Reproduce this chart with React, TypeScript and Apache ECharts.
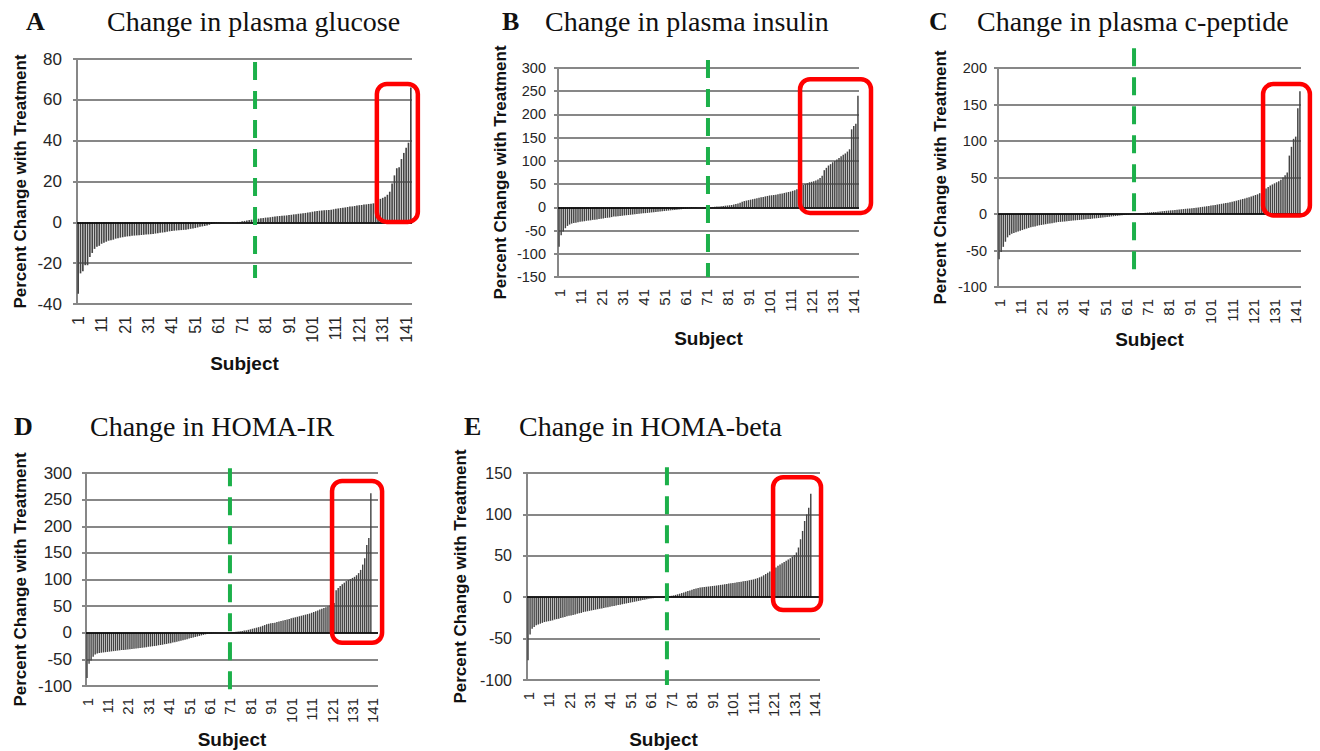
import React, { useEffect, useRef } from "react";
import * as echarts from "echarts";

// ---------- DATA ----------
const subjectCount = 143;
const subjects: string[] = Array.from({ length: subjectCount }, (_, i) => String(i + 1));

const panelLetters = ["A", "B", "C", "D", "E"];
const panelTitles = [
  "Change in plasma glucose",
  "Change in plasma insulin",
  "Change in plasma c-peptide",
  "Change in HOMA-IR",
  "Change in HOMA-beta",
];
const yMins = [-40, -150, -100, -100, -100];
const yMaxs = [80, 300, 200, 300, 150];
const yIntervals = [20, 50, 50, 50, 50];

const glucoseChange = [
  -35, -25, -24, -21, -21, -17, -15, -13, -12, -11.5,
  -10.5, -10, -9.5, -9, -8.8, -8.5, -8, -7.8, -7.5, -7.3,
  -7, -6.9, -6.8, -6.6, -6.5, -6.4, -6.3, -6.2, -6.1, -6,
  -5.9, -5.8, -5.7, -5.5, -5.3, -5.1, -5, -4.8, -4.6, -4.4,
  -4.3, -4.1, -4, -3.9, -3.8, -3.7, -3.6, -3.4, -3.2, -3,
  -2.8, -2.5, -2.2, -2, -1.8, -1.5, -1.2, -0.8, -0.5, -0.3,
  -0.2, -0.1, -0.1, 0, 0, 0, 0.1, 0.1, 0.2, 0.2,
  0.5, 0.7, 0.9, 1.1, 1.3, 1.5, 1.6, 1.8, 2, 2.1,
  2.3, 2.4, 2.5, 2.7, 2.8, 3, 3.1, 3.2, 3.3, 3.4,
  3.6, 3.7, 3.9, 4, 4.2, 4.3, 4.5, 4.6, 4.8, 5,
  5.2, 5.4, 5.6, 5.7, 5.8, 5.9, 6, 6.1, 6.2, 6.4,
  6.6, 6.8, 7, 7.1, 7.3, 7.5, 7.7, 7.8, 8, 8.2,
  8.4, 8.5, 8.7, 8.8, 9, 9.1, 9.3, 9.5, 9.8, 11.5,
  12, 12.5, 13.5, 15, 19, 23, 26.5, 27, 31, 34,
  36.5, 39, 66,
];

const insulinChange = [
  -85, -60, -52, -45, -40, -37, -35, -34, -33, -32,
  -31, -30.5, -30, -29, -28.5, -28, -27, -26.5, -26, -25,
  -24.5, -24, -23, -22.5, -22, -21, -20, -19.5, -19, -18.5,
  -18, -17.5, -17, -16.5, -16, -15.5, -15, -14.5, -14, -13.5,
  -13, -12.5, -12, -11.5, -11, -10.5, -10, -9.5, -9, -8.5,
  -8, -7.5, -7, -6.5, -6, -5.5, -5, -4.5, -4, -3.5,
  -3, -2.5, -2, -1.5, -1, -0.8, -0.5, -0.3, -0.1, 0,
  0, 0.2, 0.5, 0.8, 1.2, 1.6, 2, 2.5, 3, 3.5,
  4, 4.5, 5, 6, 7, 8.5, 10, 12, 13.5, 14.5,
  15.5, 16.5, 17.5, 18.5, 19.5, 20.5, 21.5, 22.5, 23.5, 24.5,
  25.5, 26, 26.5, 27, 28, 29, 30, 31, 32, 33,
  34, 35.5, 37, 39, 41, 44, 48, 50, 52, 54,
  55, 56, 58, 60, 63, 68, 80, 85, 90, 93,
  97, 100, 103, 106, 110, 113, 116, 120, 125, 168,
  175, 180, 240,
];

const cPeptideChange = [
  -62, -52, -45, -38, -32, -29, -27, -26, -25, -24,
  -23, -22, -21, -20, -19, -18, -17.5, -17, -16, -15.5,
  -15, -14.5, -14, -13.5, -13, -12.5, -12, -11.5, -11, -10.8,
  -10.5, -10.2, -10, -9.7, -9.4, -9, -8.7, -8.4, -8.1, -7.8,
  -7.5, -7.2, -7, -6.7, -6.4, -6.1, -5.8, -5.5, -5.2, -4.8,
  -4.4, -4, -3.7, -3.4, -3.1, -2.8, -2.5, -2.2, -1.8, -1.5,
  -1.1, -0.7, -0.4, -0.1, 0.2, 0.5, 0.8, 1, 1.3, 1.6,
  1.9, 2.2, 2.5, 2.7, 2.9, 3.2, 3.5, 3.8, 4.1, 4.4,
  4.7, 5, 5.3, 5.6, 5.9, 6.2, 6.5, 6.8, 7.1, 7.4,
  7.7, 8, 8.3, 8.7, 9, 9.4, 9.8, 10.2, 10.6, 11,
  11.5, 12, 12.5, 13, 13.5, 14, 14.5, 15, 15.5, 16,
  16.8, 17.5, 18.2, 19, 19.8, 20.6, 21.4, 22.2, 23, 24,
  25, 26, 27, 28.5, 30, 32, 35, 37, 39, 40.5,
  42, 43.5, 45, 47, 50, 53, 57, 80, 92, 103,
  106, 145, 168,
];

const homaIrChange = [
  -85, -58, -52, -45, -41, -39, -38, -37.5, -37, -36.5,
  -36, -35.5, -35, -34.5, -34, -33.5, -33, -32.5, -32.2, -32,
  -31.5, -31, -30.5, -30, -29.5, -29, -28.5, -28, -27.5, -27,
  -26.5, -26, -25.5, -25, -24.5, -23.5, -23, -22.5, -21.5, -21,
  -20, -19.5, -18.5, -18, -17, -16, -15, -14, -13, -12,
  -11, -10, -9, -8, -7, -6, -5, -4, -3, -2,
  -1.5, -1, -0.5, -0.3, -0.1, 0, 0, 0.1, 0.2, 0.4,
  0.7, 1, 1.5, 2, 2.5, 3, 3.5, 4, 4.5, 5.5,
  6.5, 7.5, 8.5, 9.5, 10.5, 11.5, 13, 14.5, 16, 17,
  18, 18.5, 19, 20, 21, 22, 23, 24, 25, 26,
  27, 28, 29, 30, 31, 32, 33, 34, 35, 36,
  37.5, 39, 40.5, 42, 43.5, 45, 46.5, 48, 49.5, 51,
  53, 56, 80, 84, 88, 91, 94, 97, 99, 101,
  103, 105, 108, 112, 118, 128, 140, 165, 178, 262,
];

const homaBetaChange = [
  -76, -45, -38, -36, -34, -33, -32, -31, -30, -29.5,
  -29, -28.5, -28, -27, -26.5, -26, -25, -24.5, -24, -23,
  -22.5, -22, -21.5, -21, -20, -19.5, -19, -18, -17.5, -17,
  -16.5, -16, -15.5, -15, -14.5, -14, -13.5, -13, -12.5, -12,
  -11.5, -11, -10.5, -10, -9.5, -9, -8.5, -8, -7.5, -7,
  -6.5, -6, -5.5, -5, -4.5, -4, -3.5, -3, -2.5, -2,
  -1.5, -1.2, -0.9, -0.6, -0.3, -0.1, 0.1, 0.4, 0.8, 1.2,
  1.7, 2.2, 2.8, 3.5, 4.2, 5, 5.8, 6.6, 7.4, 8.2,
  9, 9.8, 10.6, 11.2, 11.6, 12, 12.3, 12.6, 12.9, 13.2,
  13.5, 13.8, 14.1, 14.5, 14.9, 15.2, 15.6, 16, 16.4, 16.8,
  17.2, 17.6, 18, 18.4, 18.8, 19.2, 19.6, 20, 20.5, 21,
  21.5, 22.2, 23, 24, 25, 26.5, 28, 29.5, 31, 32.5,
  34, 36, 38, 39.5, 41, 42.5, 44, 45.5, 47, 49,
  51, 54, 60, 70, 80, 92, 100, 108, 125,
];

const panelSeries = [glucoseChange, insulinChange, cPeptideChange, homaIrChange, homaBetaChange];

// annotations (subject index position, values)
const greenLineSubject = [75.5, 70.75, 63.7, 70, 67.8];
const greenLineTop = [78.5, 317, 227, 309, 157];
const greenLineBottom = [-27.3, -150, -81, -117, -106];

const redBoxStart = [127.5, 114.5, 124.6, 120, 119.6];
const redBoxEnd = [145, 148.2, 146.7, 144.5, 143];
const redBoxTop = [67.8, 276, 178, 285, 145];
const redBoxBottom = [0.2, -12, -2, -19, -15.5];

// ---------- LAYOUT ----------
const grids = [
  { left: 77, top: 59, width: 335, height: 245 },
  { left: 558, top: 68, width: 301, height: 209 },
  { left: 998, top: 68, width: 303, height: 219 },
  { left: 86, top: 473, width: 292, height: 213 },
  { left: 527, top: 473, width: 293, height: 207 },
];
const yLabelSize = [17, 14.5, 14.5, 17, 16];
const yLabelMargin = [15, 12, 11, 14, 15];
const xLabelSize = [16, 15, 15, 15, 15];
const xNameGap = [49.5, 51.5, 42.5, 43.5, 49.5];
const yNameGap = [48.5, 49.5, 49.5, 57.5, 58.5];
const xNamePad = [0, 0, 0, 0, 20];
const letterPos = [[26, 21], [502, 21], [929, 21], [14, 426], [464, 426]];
const titlePos = [[107, 21], [545, 21], [977, 21], [90, 426], [519, 426]];

const SANS = '"Liberation Sans", Arial, sans-serif';
const SERIF = '"Liberation Serif", "Times New Roman", serif';
const GRID_GREY = "#878787";

function buildOption() {
  return {
    animation: false,
    backgroundColor: "#ffffff",
    grid: grids.map((g) => ({ ...g, containLabel: false })),
    xAxis: grids.map((_, k) => ({
      type: "category",
      gridIndex: k,
      data: subjects,
      position: "bottom",
      boundaryGap: true,
      name: "Subject",
      nameLocation: "middle",
      nameGap: xNameGap[k],
      nameTextStyle: {
        fontFamily: SANS,
        fontWeight: "bold",
        fontSize: 19,
        color: "#111",
        padding: [0, xNamePad[k], 0, 0],
      },
      axisLine: { show: false, onZero: false },
      axisTick: { show: false },
      splitLine: { show: false },
      axisLabel: {
        interval: 9,
        rotate: 90,
        margin: 12,
        fontFamily: SANS,
        fontSize: xLabelSize[k],
        color: "#262626",
      },
    })),
    yAxis: grids.map((_, k) => ({
      type: "value",
      gridIndex: k,
      min: yMins[k],
      max: yMaxs[k],
      interval: yIntervals[k],
      name: "Percent Change with Treatment",
      nameLocation: "middle",
      nameGap: yNameGap[k],
      nameTextStyle: {
        fontFamily: SANS,
        fontWeight: "bold",
        fontSize: 17,
        color: "#111",
      },
      axisLine: { show: true, lineStyle: { color: GRID_GREY, width: 2 } },
      axisTick: { show: true, length: 4, lineStyle: { color: GRID_GREY, width: 2 } },
      splitLine: { show: true, lineStyle: { color: GRID_GREY, width: 1.8 } },
      axisLabel: {
        fontFamily: SANS,
        fontSize: yLabelSize[k],
        margin: yLabelMargin[k],
        color: "#262626",
      },
    })),
    series: panelSeries.map((vals, k) => ({
      type: "bar",
      xAxisIndex: k,
      yAxisIndex: k,
      data: vals,
      barCategoryGap: "30%",
      itemStyle: { color: "#444444" },
      silent: true,
      markLine: {
        silent: true,
        symbol: ["none", "none"],
        label: { show: false },
        lineStyle: { color: "#000", width: 1.6, type: "solid" },
        data: [{ yAxis: 0 }],
      },
    })),
  };
}

function buildGraphics(chart: any) {
  const els: any[] = [];
  grids.forEach((_, k) => {
    const p0 = chart.convertToPixel({ gridIndex: k }, [0, 0]);
    const p1 = chart.convertToPixel({ gridIndex: k }, [1, 0]);
    const step = p1[0] - p0[0];
    const xPx = (i: number) => p0[0] + i * step;
    const yPx = (v: number) => chart.convertToPixel({ gridIndex: k }, [0, v])[1];

    const gx = xPx(greenLineSubject[k]);
    els.push({
      type: "line",
      z: 100,
      shape: { x1: gx, y1: yPx(greenLineTop[k]), x2: gx, y2: yPx(greenLineBottom[k]) },
      style: { stroke: "#1cb04a", lineWidth: 4, lineDash: [18, 11] },
    });

    const rx1 = xPx(redBoxStart[k]);
    const rx2 = xPx(redBoxEnd[k]);
    const ry1 = yPx(redBoxTop[k]);
    const ry2 = yPx(redBoxBottom[k]);
    els.push({
      type: "rect",
      z: 101,
      shape: { x: rx1, y: ry1, width: rx2 - rx1, height: ry2 - ry1, r: 10 },
      style: { fill: "none", stroke: "#ff0000", lineWidth: 4.5 },
    });

    els.push({
      type: "text",
      z: 102,
      x: letterPos[k][0],
      y: letterPos[k][1],
      style: {
        text: panelLetters[k],
        font: `bold 26px ${SERIF}`,
        fill: "#111",
        align: "left",
        verticalAlign: "middle",
        textAlign: "left",
        textVerticalAlign: "middle",
      },
    });
    els.push({
      type: "text",
      z: 102,
      x: titlePos[k][0],
      y: titlePos[k][1],
      style: {
        text: panelTitles[k],
        font: `28px ${SERIF}`,
        fill: "#111",
        align: "left",
        verticalAlign: "middle",
        textAlign: "left",
        textVerticalAlign: "middle",
      },
    });
  });
  return els;
}

export default function App() {
  const ref = useRef<HTMLDivElement>(null);
  useEffect(() => {
    document.body.style.margin = "0";
    if (!ref.current) return;
    const chart = echarts.init(ref.current, null, { renderer: "svg" });
    chart.setOption(buildOption());
    chart.setOption({ graphic: { elements: buildGraphics(chart) } });
    return () => chart.dispose();
  }, []);
  return <div ref={ref} style={{ width: 1320, height: 751 }} />;
}
